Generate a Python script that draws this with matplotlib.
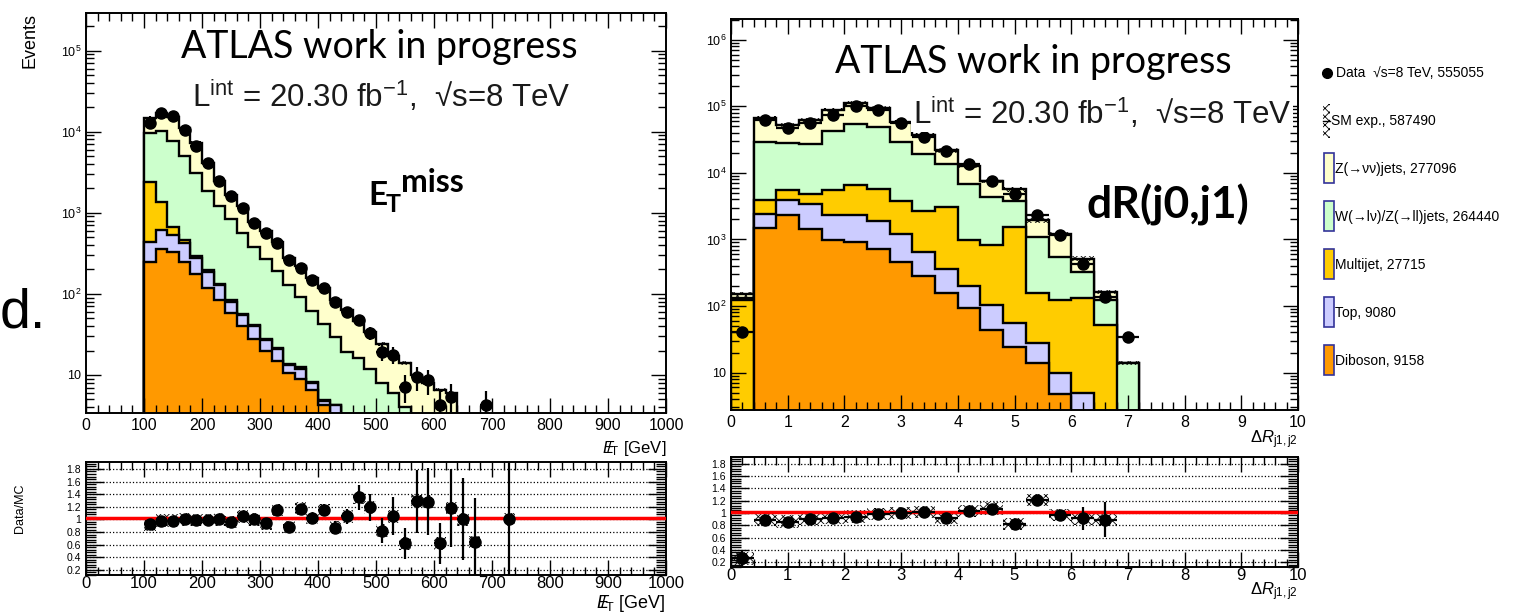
import matplotlib.pyplot as plt
import numpy as np
from matplotlib.ticker import FixedLocator, FuncFormatter, MultipleLocator, LogLocator, NullFormatter

plt.rcParams['font.family'] = ['Liberation Sans', 'DejaVu Sans']
plt.rcParams['mathtext.fontset'] = 'custom'
plt.rcParams['mathtext.rm'] = 'Liberation Sans'
plt.rcParams['mathtext.it'] = 'Liberation Sans:italic'
plt.rcParams['mathtext.bf'] = 'Liberation Sans:bold'
plt.rcParams['hatch.linewidth'] = 0.6

# ---------------- data: MET panel (20 GeV bins, 100-640 GeV) ----------------
met_edges = np.arange(100, 660, 20)
met_diboson = [250, 355, 325, 250, 177, 118, 84, 58, 40, 28, 20, 15, 10.5, 9, 6.5, 4.3, 2.5,
               0, 0, 0, 0, 0, 0, 0, 0, 0, 0]
met_top = [190, 250, 210, 178, 100, 70, 45, 22, 15, 12, 7, 5.7, 2.8, 3, 1.4, 0.5, 1.8,
           0, 0, 0, 0, 0, 0, 0, 0, 0, 0]
met_multijet = [1925, 735, 140, 32, 14, 7, 4, 3, 2, 1.5, 1, 0.7, 0.5, 0.4, 0.2, 0.1, 0,
                0, 0, 0, 0, 0, 0, 0, 0, 0, 0]
met_wjets = [7274, 8910, 6914, 4490, 2800, 1635, 1067, 747, 503, 339, 242, 169, 116, 78, 54, 38, 25,
             19, 16, 12, 8, 6, 4, 0, 0, 0, 0]
met_zjets = [5160, 6750, 7510, 6150, 4150, 2270, 1260, 830, 640, 395, 318, 251, 146, 128, 94, 75, 54,
             44, 30, 22, 16, 11, 10, 10, 8, 6.5, 6]
met_data_x = [110, 130, 150, 170, 190, 210, 230, 250, 270, 290, 310, 330, 350, 370, 390, 410, 430,
              450, 470, 490, 510, 530, 550, 570, 590, 610, 630, 690]
met_data = [12900, 17000, 15400, 10500, 6600, 4100, 2460, 1590, 1150, 740, 560, 424, 262, 208, 149,
            118, 80, 60, 48, 33, 19.4, 17.7, 7.2, 9.5, 8.6, 4.3, 5.4, 4.3]
met_ratio_x = [110, 130, 150, 170, 190, 210, 230, 250, 270, 290, 310, 330, 350, 370, 390, 410, 430,
               450, 470, 490, 510, 530, 550, 570, 590, 610, 630, 650, 670, 730]
met_ratio = [0.92, 0.98, 0.98, 1.0, 0.99, 0.99, 1.0, 0.96, 1.05, 1.0, 0.94, 1.15, 0.88, 1.17, 1.02,
             1.15, 0.87, 1.05, 1.35, 1.19, 0.82, 1.05, 0.62, 1.29, 1.28, 0.62, 1.18, 1.0, 0.64, 1.0]
met_ratio_err = [0.03, 0.02, 0.02, 0.02, 0.02, 0.02, 0.02, 0.03, 0.03, 0.04, 0.04, 0.05, 0.06, 0.07,
                 0.08, 0.09, 0.1, 0.12, 0.2, 0.22, 0.2, 0.3, 0.25, 0.5, 0.53, 0.33, 0.62, 0.65, 0.7, 1.0]

# ---------------- data: dR(j1,j2) panel (0.4 bins, 0-7.2) ----------------
dr_edges = np.round(np.arange(0, 7.6, 0.4), 1)
dr_diboson = [1, 1490, 2300, 1440, 966, 915, 725, 456, 280, 155, 92, 44, 24.6, 14, 4.7, 1, 0, 0]
dr_top = [1, 910, 1600, 1960, 1334, 1385, 1195, 759, 365, 200, 108, 59, 30.4, 13.7, 5.2, 4, 0, 0]
dr_multijet = [121, 1490, 1600, 1500, 3200, 4300, 3780, 2585, 2055, 2745, 766, 712, 1465, 127, 113,
               125, 52, 0]
dr_wjets = [10, 25400, 22900, 22400, 37000, 48000, 43100, 25500, 16300, 10300, 5784, 3455, 2280,
            925, 427, 194, 71, 14]
dr_zjets = [17, 37500, 23600, 34100, 45100, 57400, 44200, 29000, 18300, 8400, 6150, 3330, 1900,
            870, 665, 191, 40, 0]
dr_data = [40, 63000, 47700, 56000, 75000, 100000, 89000, 56000, 34600, 21400, 13500, 7600, 4900,
           2300, 1150, 435, 138, 34]
dr_ratio_x = [0.2, 0.6, 1.0, 1.4, 1.8, 2.2, 2.6, 3.0, 3.4, 3.8, 4.2, 4.6, 5.0, 5.4, 5.8, 6.2, 6.6]
dr_ratio = [0.26, 0.88, 0.86, 0.90, 0.92, 0.94, 0.98, 1.0, 1.02, 0.92, 1.03, 1.07, 0.82, 1.21, 0.97,
            0.91, 0.89]
dr_ratio_err = [0.13, 0.01, 0.01, 0.01, 0.01, 0.01, 0.01, 0.01, 0.01, 0.02, 0.02, 0.03, 0.04, 0.05,
                0.07, 0.18, 0.28]

proc_colors = ['#ff9900', '#ccccff', '#ffcc00', '#ccffcc', '#ffffcc']
legend_labels = ['Data  \u221as=8 TeV, 555055', 'SM exp., 587490', 'Z(\u2192\u03bd\u03bd)jets, 277096',
                 'W(\u2192l\u03bd)/Z(\u2192ll)jets, 264440', 'Multijet, 27715', 'Top, 9080',
                 'Diboson, 9158']

W, H = 1518, 612
fig = plt.figure(figsize=(W / 100, H / 100), dpi=100)


def px_axes(x0, y0, x1, y1):
    return fig.add_axes([x0 / W, 1 - y1 / H, (x1 - x0) / W, (y1 - y0) / H])


def ftext(x, y, s, **kw):
    # place text using pixel coordinates measured from the top-left corner
    return fig.text(x / W, 1 - y / H, s, **kw)


def log_label(v, pos):
    e = int(round(np.log10(v)))
    return '10' if e == 1 else rf'$10^{{{e}}}$'


def ratio_label(v, pos):
    return '1' if abs(v - 1) < 1e-6 else f'{v:.1f}'


def style_frame(ax):
    for s in ax.spines.values():
        s.set_linewidth(1.4)
    ax.tick_params(which='both', direction='in', top=True, right=True, width=1.0)
    ax.tick_params(which='major', length=11)
    ax.tick_params(which='minor', length=6)


def draw_stack(ax, edges, comps, rel_unc):
    cum = np.cumsum(np.array(comps, dtype=float), axis=0)
    for level, color in reversed(list(zip(cum, proc_colors))):
        vals = np.where(level > 0, level, 1e-3)
        ax.stairs(vals, edges, baseline=1e-3, fill=True, facecolor=color, edgecolor='none')
        ax.stairs(vals, edges, baseline=1e-3, fill=False, color='black', lw=1.7)
    total = cum[-1]
    centers = 0.5 * (edges[1:] + edges[:-1])
    widths = np.diff(edges)
    mask = total > 0
    ax.bar(centers[mask], 2 * rel_unc * total[mask], bottom=total[mask] * (1 - rel_unc),
           width=widths[mask], fill=False, hatch='xxxx', edgecolor='black', lw=0)


def top_panel(ax, edges, comps, data_x, data, half_w, xlim, ylim, rel_unc):
    draw_stack(ax, edges, comps, rel_unc)
    data = np.array(data, dtype=float)
    ax.errorbar(data_x, data, yerr=np.sqrt(data), xerr=half_w, fmt='o', color='black',
                ms=8, elinewidth=1.6, capsize=0, zorder=5)
    ax.set_yscale('log')
    ax.set_xlim(*xlim)
    ax.set_ylim(*ylim)
    ax.yaxis.set_major_locator(LogLocator(base=10, numticks=10))
    ax.yaxis.set_minor_locator(LogLocator(base=10, subs=np.arange(2, 10), numticks=20))
    ax.yaxis.set_major_formatter(FuncFormatter(log_label))
    ax.yaxis.set_minor_formatter(NullFormatter())
    ax.tick_params(axis='y', labelsize=9)
    ax.tick_params(axis='x', labelsize=11.5)
    style_frame(ax)


def ratio_panel(ax, x, r, rerr, half_w, hatch_h, xlim, major, minor):
    ax.bar(x, 2 * hatch_h, bottom=np.array(r) - hatch_h, width=2 * half_w, fill=False,
           hatch='xxxx', edgecolor='black', lw=0, zorder=2)
    ax.errorbar(x, r, yerr=rerr, xerr=half_w, fmt='o', color='black', ms=8,
                elinewidth=1.6, capsize=0, zorder=4)
    ax.axhline(1.02, color='red', lw=2.5, zorder=3)
    ax.set_xlim(*xlim)
    ax.set_ylim(0.12, 1.91)
    ax.yaxis.set_major_locator(FixedLocator(np.round(np.arange(0.2, 1.9, 0.2), 1)))
    ax.yaxis.set_minor_locator(MultipleLocator(0.04))
    ax.yaxis.set_major_formatter(FuncFormatter(ratio_label))
    ax.xaxis.set_major_locator(MultipleLocator(major))
    ax.xaxis.set_minor_locator(MultipleLocator(minor))
    ax.grid(axis='y', which='major', linestyle=':', color='black', lw=0.9)
    ax.tick_params(axis='y', labelsize=7.5)
    ax.tick_params(axis='x', labelsize=12, pad=1)
    style_frame(ax)
    ax.tick_params(axis='y', which='major', length=13)
    ax.tick_params(axis='y', which='minor', length=7)


# ---------------- left: MET ----------------
ax1 = px_axes(86, 13, 666, 413)
top_panel(ax1, met_edges, [met_diboson, met_top, met_multijet, met_wjets, met_zjets],
          met_data_x, met_data, 10, (0, 1000), (3.4, 2.9e5), 0.05)
ax1.xaxis.set_major_locator(MultipleLocator(100))
ax1.xaxis.set_minor_locator(MultipleLocator(20))

ax1r = px_axes(86, 462, 666, 575)
ratio_panel(ax1r, met_ratio_x, met_ratio, met_ratio_err, 10, 0.1, (0, 1000), 100, 20)

# ---------------- right: dR ----------------
ax2 = px_axes(731, 19, 1298, 410)
dr_centers = 0.5 * (dr_edges[1:] + dr_edges[:-1])
top_panel(ax2, dr_edges, [dr_diboson, dr_top, dr_multijet, dr_wjets, dr_zjets],
          dr_centers, dr_data, 0.2, (0, 10), (2.74, 2.05e6), 0.08)
ax2.xaxis.set_major_locator(MultipleLocator(1))
ax2.xaxis.set_minor_locator(MultipleLocator(0.2))

ax2r = px_axes(731, 457, 1298, 567)
ratio_panel(ax2r, dr_ratio_x, dr_ratio, dr_ratio_err, 0.2, 0.1, (0, 10), 1, 0.2)

# ---------------- axis titles ----------------
met_lab = r'$E\!\!\!/_{\mathrm{T}}$ [GeV]'
dr_lab = r'$\Delta R_{\mathrm{j1,j2}}$'
ftext(666, 448, met_lab, ha='right', va='center', fontsize=12)
ftext(666, 603, met_lab, ha='right', va='center', fontsize=13)
ftext(1298, 440, dr_lab, ha='right', va='center', fontsize=12)
ftext(1298, 592, dr_lab, ha='right', va='center', fontsize=12)
ftext(30, 13, 'Events', rotation=90, ha='center', va='top', fontsize=13)
ftext(20, 508, 'Data/MC', rotation=90, ha='center', va='center', fontsize=9)

# ---------------- slide annotations ----------------
ftext(0, 328, 'd.', ha='left', va='baseline', fontsize=40)
lumi = 'L$^{\\mathrm{int}}$ = 20.30 fb$^{\\mathrm{-1}}$,  \u221as=8 TeV'
ftext(379, 58, 'ATLAS work in progress', ha='center', va='baseline', family='Lato', fontsize=27)
ftext(381, 107, lumi, ha='center', va='baseline', fontsize=22.5, color='#1a1a1a')
ftext(1033, 73, 'ATLAS work in progress', ha='center', va='baseline', family='Lato', fontsize=27)
ftext(1102, 124, lumi, ha='center', va='baseline', fontsize=22.5, color='#1a1a1a',
      bbox=dict(facecolor='white', edgecolor='none', pad=1), zorder=10)
ftext(368, 205, 'E', ha='left', va='baseline', family='Lato', weight='bold', fontsize=24)
ftext(386, 212, 'T', ha='left', va='baseline', family='Lato', weight='bold', fontsize=18)
ftext(401, 192, 'miss', ha='left', va='baseline', family='Lato', weight='bold', fontsize=23)
ftext(1087, 218, 'dR(j0,j1)', ha='left', va='baseline', family='Lato', weight='bold', fontsize=32)

# ---------------- legend ----------------
lg = fig.add_axes([0, 0, 1, 1], facecolor='none')
lg.set_xlim(0, W)
lg.set_ylim(H, 0)
lg.axis('off')
for i, label in enumerate(legend_labels):
    y = 73 + 48 * i
    if i == 0:
        lg.plot(1327, y, 'o', color='black', ms=7)
        tx = 1336
    elif i == 1:
        lg.bar(1326, 34, bottom=y - 17, width=7, fill=False, hatch='xxxx', edgecolor='black', lw=0)
        lg.plot([1323, 1330], [y, y], color='black', lw=1)
        tx = 1331
    else:
        lg.bar(1329, 30, bottom=y - 16, width=10, facecolor=proc_colors[6 - i],
               edgecolor='#333399', lw=1.2)
        tx = 1335
    lg.text(tx, y, label, ha='left', va='center', fontsize=10)

fig.savefig('out.png', dpi=100)
